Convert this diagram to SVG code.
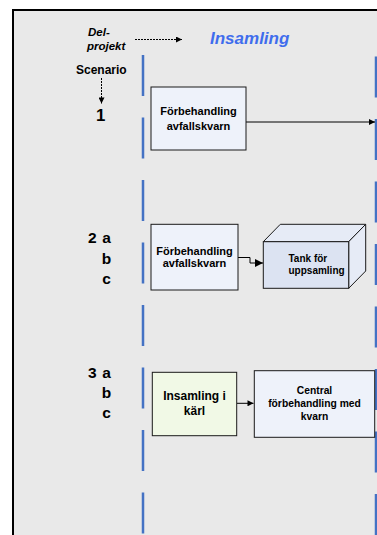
<svg xmlns="http://www.w3.org/2000/svg" width="377" height="535" viewBox="0 0 377 535">
<style>
.t{font-family:"Liberation Sans",Arial,sans-serif;font-weight:bold;fill:#000}
.box{stroke:#1a1a1a;stroke-width:1}
.lane{stroke:#4472c4;stroke-width:2.5;stroke-dasharray:41 21.5;fill:none}
.con{stroke:#000;stroke-width:1;fill:none}
</style>
<defs>
<marker id="ah" viewBox="0 0 10 10" refX="10" refY="5" markerWidth="8" markerHeight="6" markerUnits="userSpaceOnUse" orient="auto">
<path d="M0,0 L10,5 L0,10 z" fill="#000"/>
</marker>
<marker id="ah2" viewBox="0 0 10 10" refX="10" refY="5" markerWidth="12" markerHeight="8" markerUnits="userSpaceOnUse" orient="auto">
<path d="M0,0 L10,5 L0,10 z" fill="#000"/>
</marker>
</defs>
<rect x="0" y="0" width="377" height="535" fill="#fff"/>
<rect x="13" y="10" width="380" height="540" fill="#e9e9e9" stroke="#000" stroke-width="2"/>
<g id="lanes">
<line class="lane" x1="143" y1="55" x2="143" y2="535"/>
<line class="lane" x1="376" y1="56.5" x2="376" y2="535"/>
</g>
<g id="labels">
<text class="t" x="88" y="36" font-size="11.5" font-style="italic">Del-</text>
<text class="t" x="87" y="50" font-size="11.5" font-style="italic">projekt</text>
<text class="t" x="210" y="44" font-size="17" font-style="italic" style="fill:#3f6ded">Insamling</text>
<text class="t" x="76" y="73.6" font-size="12">Scenario</text>
<text class="t" x="100.7" y="121" font-size="16.8" text-anchor="middle">1</text>
<text class="t" x="88" y="243.3" font-size="15.5">2</text>
<text class="t" x="106.5" y="243.3" font-size="15.5" text-anchor="middle">a</text>
<text class="t" x="106.5" y="263.5" font-size="15.5" text-anchor="middle">b</text>
<text class="t" x="106.5" y="283.5" font-size="15.5" text-anchor="middle">c</text>
<text class="t" x="88" y="377.7" font-size="15.5">3</text>
<text class="t" x="106.5" y="377.7" font-size="15.5" text-anchor="middle">a</text>
<text class="t" x="106.5" y="397.7" font-size="15.5" text-anchor="middle">b</text>
<text class="t" x="106.5" y="417.7" font-size="15.5" text-anchor="middle">c</text>
</g>
<g id="connectors">
<line class="con" x1="135" y1="39.5" x2="182" y2="39.5" stroke-dasharray="2 1" marker-end="url(#ah)"/>
<line class="con" x1="101.5" y1="78" x2="101.5" y2="103.5" stroke-dasharray="2 1" marker-end="url(#ah)"/>
<line class="con" x1="246" y1="122" x2="375" y2="122" marker-end="url(#ah)"/>
<path class="con" d="M238,257.5 H250 V263 H263" marker-end="url(#ah2)"/>
<line class="con" x1="237" y1="403.3" x2="253.5" y2="403.3" marker-end="url(#ah)"/>
</g>
<g id="n1">
<rect class="box" x="151" y="87" width="95" height="63" fill="#eef2fa"/>
<text class="t" x="198.5" y="115" font-size="11" text-anchor="middle">Förbehandling</text>
<text class="t" x="198.5" y="130" font-size="11" text-anchor="middle">avfallskvarn</text>
</g>
<g id="n2">
<rect class="box" x="151" y="224.3" width="87" height="65.7" fill="#eef2fa"/>
<text class="t" x="194.5" y="254.5" font-size="11" text-anchor="middle">Förbehandling</text>
<text class="t" x="194.5" y="266.5" font-size="11" text-anchor="middle">avfallskvarn</text>
</g>
<g id="tank">
<polygon class="box" points="263.3,241.7 280.3,224.3 365.7,224.3 348.7,241.7" fill="#e6ebf6"/>
<polygon class="box" points="348.7,241.7 365.7,224.3 365.7,271 348.7,288.3" fill="#e6ebf6"/>
<rect class="box" x="263.3" y="241.7" width="85.4" height="46.6" fill="#dce3f2"/>
<text class="t" x="288.5" y="262" font-size="10">Tank för</text>
<text class="t" x="288.5" y="274" font-size="10">uppsamling</text>
</g>
<g id="n3a">
<rect class="box" x="152.3" y="372.3" width="84.4" height="63.4" fill="#f1f9e6"/>
<text class="t" x="194.5" y="400" font-size="12" text-anchor="middle">Insamling i</text>
<text class="t" x="194.5" y="415" font-size="12" text-anchor="middle">kärl</text>
</g>
<g id="n3b">
<rect class="box" x="254.3" y="370.7" width="120.4" height="66.6" fill="#eef2fa"/>
<text class="t" x="314.5" y="394.3" font-size="10.3" text-anchor="middle">Central</text>
<text class="t" x="314.5" y="407" font-size="10.3" text-anchor="middle">förbehandling med</text>
<text class="t" x="314.5" y="419.7" font-size="10.3" text-anchor="middle">kvarn</text>
</g>
</svg>
